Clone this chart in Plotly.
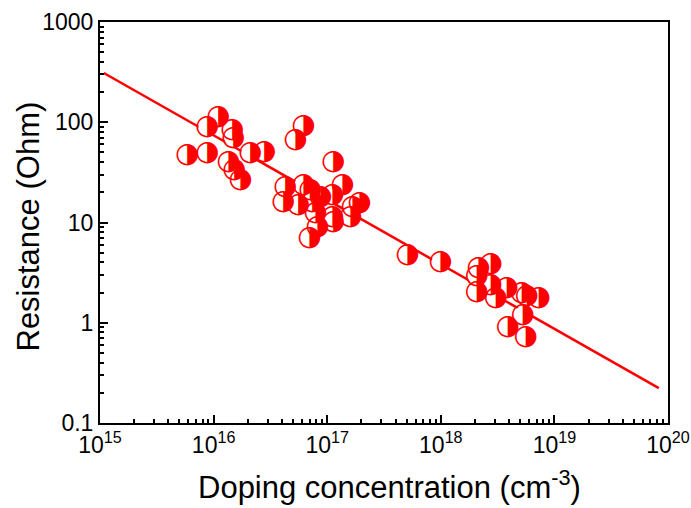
import plotly.graph_objects as go

# Data (doping in cm^-3, resistance in Ohm)
doping = [5.85e15, 8.8e15, 8.8e15, 1.10e16, 1.46e16, 1.49e16, 1.35e16, 1.52e16, 1.72e16,
          2.10e16, 2.79e16, 6.17e16, 5.25e16, 1.13e17, 4.28e16, 6.17e16, 4.11e16, 5.57e16,
          7.40e16, 8.71e16, 1.11e17, 1.36e17, 7.87e16, 1.11e17, 8.21e16, 6.97e16, 1.67e17,
          1.92e17, 1.60e17, 7.1e16, 1.13e17,
          5.1e17, 9.95e17,
          2.15e18, 2.75e18, 2.07e18, 2.07e18, 2.75e18, 3.04e18, 3.80e18, 5.16e18, 5.71e18,
          7.28e18, 5.26e18, 3.88e18, 5.60e18]
resistance = [47.1, 49.3, 89.7, 112.8, 83.7, 69.6, 40.1, 33.4, 26.5,
              49.3, 50.5, 91.8, 66.5, 40.1, 22.6, 23.7, 16.0, 15.0,
              16.0, 17.9, 18.8, 23.7, 12.4, 11.3, 9.02, 7.0, 14.3,
              15.6, 11.3, 21.1, 10.1,
              4.74, 4.04,
              3.52, 3.86, 2.93, 2.03, 2.38, 1.77, 2.22, 1.98, 1.85,
              1.77, 1.19, 0.91, 0.72]

fit_x = [1.08e15, 8.3e19]
fit_y = [310, 0.223]

x_tickvals = [1e15, 1e16, 1e17, 1e18, 1e19, 1e20]
x_ticktext = ["10<sup>15</sup>", "10<sup>16</sup>", "10<sup>17</sup>", "10<sup>18</sup>",
              "10<sup>19</sup>", "10<sup>20</sup>"]
y_tickvals = [0.1, 1, 10, 100, 1000]
y_ticktext = ["0.1", "1", "10", "100", "1000"]

x_title = "Doping concentration (cm<sup>-3</sup>)"
y_title = "Resistance (Ohm)"

RED = "#ff0000"
FONT = "Liberation Sans, Arial"

fig = go.Figure()
fig.add_trace(go.Scatter(x=fit_x, y=fit_y, mode="lines",
                         line=dict(color=RED, width=2.5), showlegend=False))
fig.add_trace(go.Scatter(x=doping, y=resistance, mode="markers+text",
                         marker=dict(symbol="circle", size=18, color="white",
                                     line=dict(width=0)),
                         text=["\u25D1"] * len(doping), textposition="middle center",
                         textfont=dict(family="DejaVu Sans", size=28, color=RED),
                         showlegend=False))

axis_common = dict(showline=True, linecolor="black", linewidth=2, mirror=True,
                   ticks="inside", ticklen=8, tickwidth=2, tickcolor="black",
                   showgrid=False, zeroline=False, automargin=False,
                   tickfont=dict(family=FONT, size=23, color="black"))

fig.update_xaxes(type="log", range=[15, 20], tickmode="array",
                 tickvals=x_tickvals, ticktext=x_ticktext,
                 minor=dict(ticks="inside", ticklen=4, tickwidth=1.5, tickcolor="black",
                            dtick="D1", showgrid=False),
                 **axis_common)
fig.update_yaxes(type="log", range=[-1, 3], tickmode="array",
                 tickvals=y_tickvals, ticktext=y_ticktext,
                 minor=dict(ticks="inside", ticklen=4, tickwidth=1.5, tickcolor="black",
                            dtick="D1", showgrid=False),
                 **axis_common)

fig.add_annotation(text=x_title, xref="paper", yref="paper", x=0.509, y=-0.155,
                   xanchor="center", yanchor="middle", showarrow=False,
                   font=dict(family=FONT, size=31, color="black"))
fig.add_annotation(text=y_title, xref="paper", yref="paper", x=-0.125, y=0.49,
                   xanchor="center", yanchor="middle", showarrow=False, textangle=-90,
                   font=dict(family=FONT, size=31, color="black"))

fig.update_layout(width=691, height=508, margin=dict(l=100, r=23, t=22, b=85),
                  plot_bgcolor="white", paper_bgcolor="white")

fig.write_html("out.html")
